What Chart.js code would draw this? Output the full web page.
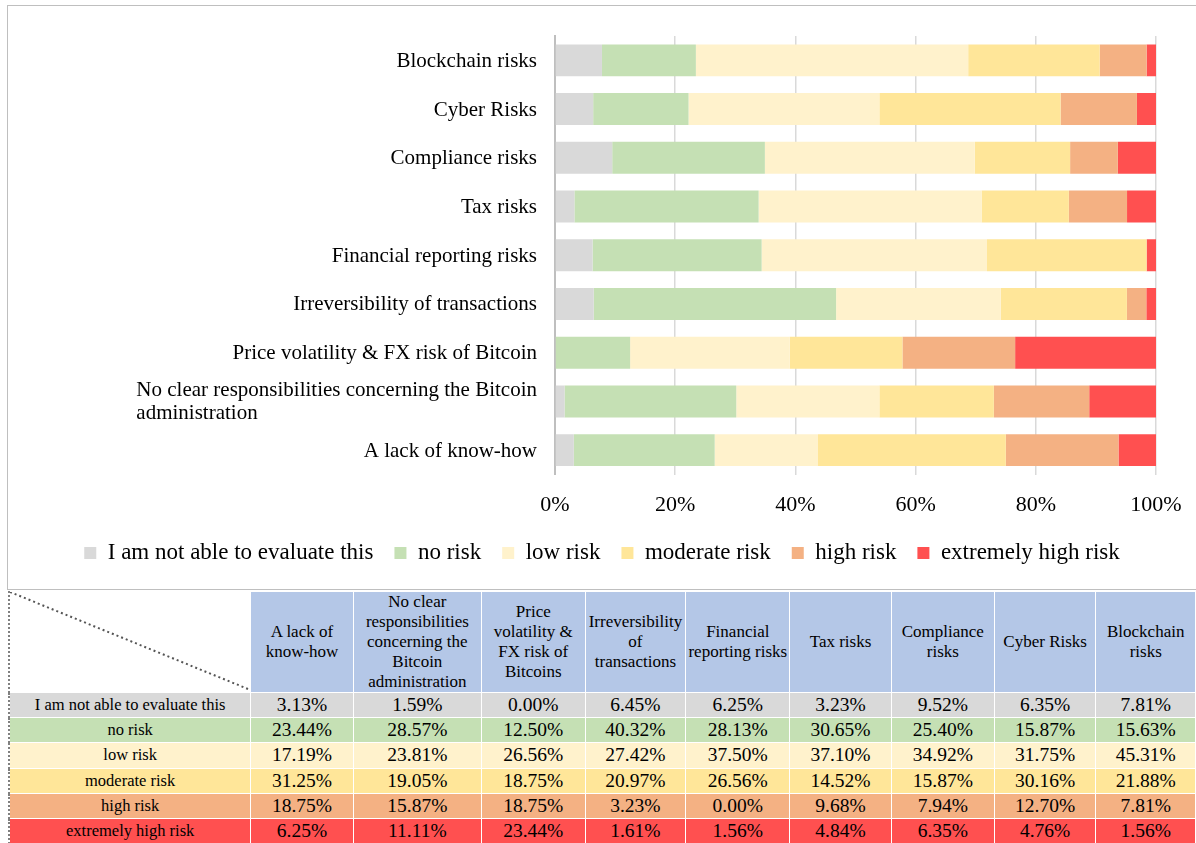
<!DOCTYPE html>
<html>
<head>
<meta charset="utf-8">
<script src="https://cdn.jsdelivr.net/npm/chart.js@4.4.1/dist/chart.umd.min.js"></script>
<style>
  html, body {
    margin: 0;
    padding: 0;
    width: 1196px;
    height: 843px;
    overflow: hidden;
    background: #fff;
    font-family: "Liberation Serif", "Times New Roman", serif;
  }
  .chart-box {
    position: absolute;
    left: 7px;
    top: 5px;
    width: 1200px;
    height: 583px;
    border: 1.5px solid #bfbfbf;
  }
  .chart-wrap {
    position: absolute;
    left: 8px;
    top: 6px;
    width: 1188px;
    height: 582px;
  }
  table {
    position: absolute;
    left: 8px;
    top: 591px;
    border-collapse: collapse;
    table-layout: fixed;
    color: #000;
  }
  td, th {
    border: 1.5px solid #fff;
    padding: 0;
    text-align: center;
    vertical-align: middle;
    overflow: hidden;
    white-space: nowrap;
  }
  th {
    height: 98px;
    background: #b4c7e7;
    font-weight: normal;
    font-size: 17px;
    line-height: 20px;
  }
  th.corner {
    background: #fff;
    position: relative;
    border-left: 2px dotted #808080;
  }
  th.corner svg {
    position: absolute;
    left: 0;
    top: 0;
  }
  td {
    height: 24.2px;
    font-size: 19.5px;
    line-height: 22px;
  }
  td.row-name {
    font-size: 16.5px;
    border-left: 2px dotted #808080;
  }
</style>
</head>
<body>
<div class="chart-box"></div>
<div class="chart-wrap"><canvas id="riskChart"></canvas></div>
<table id="riskTable"></table>

<script>
// categories, in table column order (bottom bar first)
const categories = [
    'A lack of know-how',
    ['No clear responsibilities concerning the Bitcoin', 'administration'],
    'Price volatility & FX risk of Bitcoin',
    'Irreversibility of transactions',
    'Financial reporting risks',
    'Tax risks',
    'Compliance risks',
    'Cyber Risks',
    'Blockchain risks'
];

// column headers of the table below the chart
const tableHeaders = [
    ['A lack of', 'know-how'],
    ['No clear', 'responsibilities', 'concerning the', 'Bitcoin', 'administration'],
    ['Price', 'volatility &', 'FX risk of', 'Bitcoins'],
    ['Irreversibility', 'of', 'transactions'],
    ['Financial', 'reporting risks'],
    ['Tax risks'],
    ['Compliance', 'risks'],
    ['Cyber Risks'],
    ['Blockchain', 'risks']
];

const seriesNames = ['I am not able to evaluate this', 'no risk', 'low risk', 'moderate risk', 'high risk', 'extremely high risk'];
const seriesColors = ['#d9d9d9', '#c5e0b4', '#fff2cc', '#ffe699', '#f4b183', '#ff5050'];

// answer shares in %
const notAble  = [3.13, 1.59, 0.00, 6.45, 6.25, 3.23, 9.52, 6.35, 7.81];
const noRisk   = [23.44, 28.57, 12.50, 40.32, 28.13, 30.65, 25.40, 15.87, 15.63];
const lowRisk  = [17.19, 23.81, 26.56, 27.42, 37.50, 37.10, 34.92, 31.75, 45.31];
const moderate = [31.25, 19.05, 18.75, 20.97, 26.56, 14.52, 15.87, 30.16, 21.88];
const highRisk = [18.75, 15.87, 18.75, 3.23, 0.00, 9.68, 7.94, 12.70, 7.81];
const extreme  = [6.25, 11.11, 23.44, 1.61, 1.56, 4.84, 6.35, 4.76, 1.56];

const xTicks = [0, 20, 40, 60, 80, 100];

const seriesValues = [notAble, noRisk, lowRisk, moderate, highRisk, extreme];

// category names drawn left of the bars; wrapped names keep their lines left-aligned
const categoryLabels = {
    id: 'categoryLabels',
    afterDraw(chart) {
        const ctx = chart.ctx;
        const yScale = chart.scales.y;
        const right = chart.chartArea.left - 18;
        ctx.save();
        ctx.font = '21px "Liberation Serif"';
        ctx.fillStyle = '#000';
        ctx.textBaseline = 'middle';
        categories.forEach((cat, i) => {
            const y = yScale.getPixelForValue(i) + 1;
            if (Array.isArray(cat)) {
                const w = Math.max(...cat.map(line => ctx.measureText(line).width));
                const lineH = 23;
                const startY = y - (cat.length - 1) * lineH / 2;
                ctx.textAlign = 'left';
                cat.forEach((line, j) => ctx.fillText(line, right - w, startY + j * lineH));
            } else {
                ctx.textAlign = 'right';
                ctx.fillText(cat, right, y);
            }
        });
        ctx.restore();
    }
};

const ctx = document.getElementById('riskChart').getContext('2d');
new Chart(ctx, {
    type: 'bar',
    data: {
        labels: categories.map(c => Array.isArray(c) ? c.join(' ') : c),
        datasets: seriesNames.map((name, i) => ({
            label: name,
            data: seriesValues[i],
            backgroundColor: seriesColors[i],
            borderWidth: 0,
            categoryPercentage: 0.656,
            barPercentage: 1
        }))
    },
    options: {
        indexAxis: 'y',
        responsive: true,
        maintainAspectRatio: false,
        animation: false,
        layout: {
            padding: { top: 30, right: 40, bottom: 13.5, left: 40 }
        },
        scales: {
            x: {
                stacked: true,
                min: 0,
                max: 100,
                afterBuildTicks: scale => {
                    scale.ticks = xTicks.map(v => ({ value: v }));
                },
                afterFit: scale => {
                    scale.height = 46;
                    scale.paddingRight = 0;
                },
                ticks: {
                    padding: 18,
                    color: '#000',
                    font: { family: '"Liberation Serif"', size: 22 },
                    callback: v => v + '%'
                },
                grid: {
                    color: '#d9d9d9',
                    lineWidth: 1.5,
                    drawTicks: false
                },
                border: { display: false }
            },
            y: {
                stacked: true,
                reverse: true,
                ticks: { display: false },
                grid: { display: false, drawTicks: false },
                border: { color: '#bfbfbf', width: 2 },
                afterFit: scale => {
                    scale.width = 507;
                }
            }
        },
        plugins: {
            legend: {
                position: 'bottom',
                labels: {
                    boxWidth: 12,
                    boxHeight: 12,
                    padding: 21,
                    color: '#000',
                    font: { family: '"Liberation Serif"', size: 23 }
                }
            },
            tooltip: { enabled: false }
        }
    },
    plugins: [categoryLabels]
});

// data table under the chart
const table = document.getElementById('riskTable');
const colWidths = [243, 103, 129, 104, 101, 104, 102.5, 103.5, 102, 100];
const colgroup = document.createElement('colgroup');
colWidths.forEach(w => {
    const col = document.createElement('col');
    col.style.width = w + 'px';
    colgroup.appendChild(col);
});
table.appendChild(colgroup);

const headRow = document.createElement('tr');
const corner = document.createElement('th');
corner.className = 'corner';
corner.innerHTML = '<svg width="243" height="100"><line x1="0" y1="0" x2="243" y2="99" stroke="#555" stroke-width="2" stroke-dasharray="2 3"/></svg>';
headRow.appendChild(corner);
tableHeaders.forEach(lines => {
    const th = document.createElement('th');
    th.innerHTML = lines.join('<br>');
    headRow.appendChild(th);
});
table.appendChild(headRow);

seriesNames.forEach((name, i) => {
    const tr = document.createElement('tr');
    tr.style.background = seriesColors[i];
    const nameCell = document.createElement('td');
    nameCell.className = 'row-name';
    nameCell.textContent = name;
    tr.appendChild(nameCell);
    seriesValues[i].forEach(v => {
        const td = document.createElement('td');
        td.textContent = v.toFixed(2) + '%';
        tr.appendChild(td);
    });
    table.appendChild(tr);
});
</script>
</body>
</html>
